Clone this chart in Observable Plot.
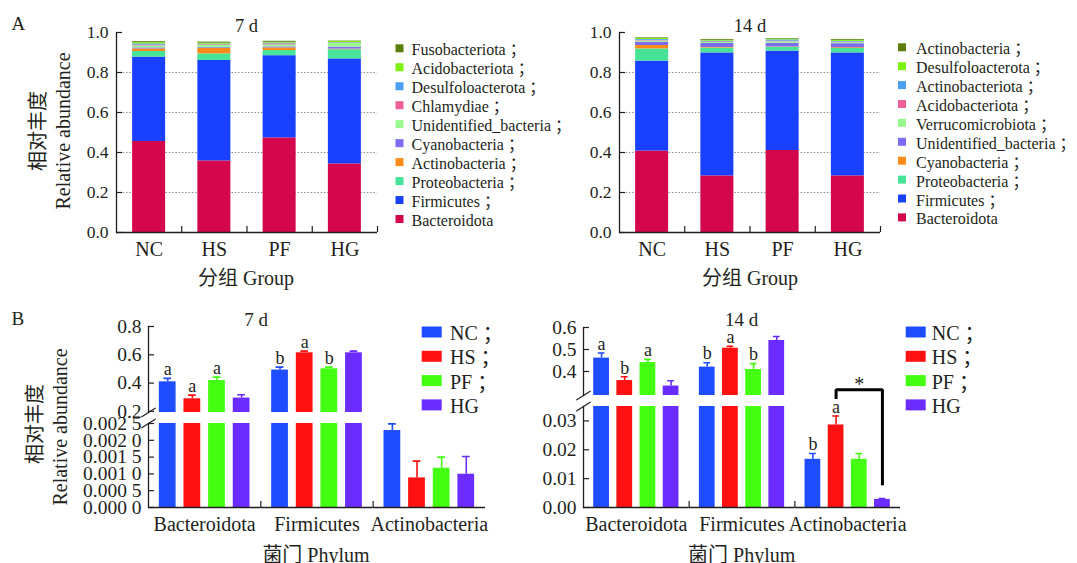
<!DOCTYPE html>
<html>
<head>
<meta charset="utf-8">
<script src="https://cdn.jsdelivr.net/npm/d3@7"></script>
<script src="https://cdn.jsdelivr.net/npm/@observablehq/plot@0.6"></script>
<style>
  html, body { margin: 0; padding: 0; background: #fff; }
  #root { position: relative; width: 1077px; height: 563px; overflow: hidden; background: #fff;
          font-family: "Liberation Serif", "Noto Sans CJK SC", serif; }
  #root > svg { position: absolute; left: 0; }
</style>
</head>
<body>
<div id="root"></div>
<script>
// ---------------- data ----------------
const groups = ["NC", "HS", "PF", "HG"];

// Panel A, 7 d (stack order bottom -> top)
const phyla7 = ["Bacteroidota", "Firmicutes", "Proteobacteria", "Actinobacteria", "Cyanobacteria",
  "Unidentified_bacteria", "Chlamydiae", "Desulfoloacterota", "Acidobacteriota", "Fusobacteriota"];
const abund7NC = [0.455, 0.422, 0.028, 0.013, 0.005, 0.010, 0.004, 0.006, 0.006, 0.005];
const abund7HS = [0.358, 0.502, 0.033, 0.027, 0.004, 0.012, 0.003, 0.003, 0.005, 0.005];
const abund7PF = [0.473, 0.411, 0.026, 0.013, 0.005, 0.010, 0.005, 0.004, 0.004, 0.005];
const abund7HG = [0.343, 0.525, 0.046, 0.003, 0.010, 0.018, 0.002, 0.002, 0.006, 0.002];

// Panel A, 14 d (stack order bottom -> top)
const phyla14 = ["Bacteroidota", "Firmicutes", "Proteobacteria", "Cyanobacteria", "Unidentified_bacteria",
  "Verrucomicrobiota", "Acidobacteriota", "Actinobacteriota", "Desulfoloacterota", "Actinobacteria"];
const abund14NC = [0.407, 0.450, 0.061, 0.017, 0.017, 0.006, 0.003, 0.004, 0.005, 0.003];
const abund14HS = [0.283, 0.615, 0.024, 0.003, 0.020, 0.005, 0.003, 0.004, 0.004, 0.004];
const abund14PF = [0.410, 0.497, 0.019, 0.002, 0.018, 0.008, 0.003, 0.006, 0.004, 0.003];
const abund14HG = [0.283, 0.615, 0.022, 0.004, 0.020, 0.005, 0.003, 0.004, 0.005, 0.004];

const stackColors = ["#d4074c", "#1a40ff", "#47e397", "#ff8a1c", "#7c6cf2",
  "#98f78e", "#ef5f98", "#4aa0f5", "#7df20e", "#5b7d0c"];
const yTicksA = [0, 0.2, 0.4, 0.6, 0.8, 1.0];
const gridA = [0.2, 0.4, 0.6, 0.8];

// Panel B
const phylaB = ["Bacteroidota", "Firmicutes", "Actinobacteria"];
const groupColors = ["#1e4dff", "#ff1111", "#45ff12", "#6b2dff"];

const mean7NC = [0.409, 0.492, 0.00229], err7NC = [0.024, 0.021, 0.00020], sig7NC = ["a", "b", ""];
const mean7HS = [0.289, 0.614, 0.00088], err7HS = [0.026, 0.012, 0.00050], sig7HS = ["a", "a", ""];
const mean7PF = [0.418, 0.501, 0.00117], err7PF = [0.024, 0.012, 0.00033], sig7PF = ["a", "b", ""];
const mean7HG = [0.294, 0.614, 0.00099], err7HG = [0.023, 0.012, 0.00053], sig7HG = ["", "", ""];

const mean14NC = [0.461, 0.420, 0.0167], err14NC = [0.023, 0.020, 0.0020], sig14NC = ["a", "b", "b"];
const mean14HS = [0.359, 0.506, 0.0286], err14HS = [0.017, 0.009, 0.0031], sig14HS = ["b", "a", "a"];
const mean14PF = [0.441, 0.409, 0.0167], err14PF = [0.014, 0.027, 0.0020], sig14PF = ["a", "b", ""];
const mean14HG = [0.334, 0.541, 0.0028], err14HG = [0.024, 0.018, 0.0003], sig14HG = ["", "", ""];

const yTicks7Upper = [0.2, 0.4, 0.6, 0.8];
const yTicks7Lower = [0, 0.0005, 0.001, 0.0015, 0.002, 0.0025];
const yTicks14Upper = [0.4, 0.5, 0.6];
const yTicks14Lower = [0, 0.01, 0.02, 0.03];

// significance bracket (14 d, Actinobacteria HS vs HG)
const bracketGroups = ["HS", "HS", "HG", "HG"];
const bracketValues = [0.0376, 0.0408, 0.0408, 0.0077];
const starGroup = "PF", starValue = 0.0425;

// ---------------- helpers ----------------
const FONT = '"Liberation Serif", "Noto Sans CJK SC", serif';
const PUNCT_FONT = '"Noto Sans CJK TC", "Noto Sans CJK SC", sans-serif';
const INK = "#231f20";
const root = document.getElementById("root");
function place(node, top) { node.style.position = "absolute"; node.style.left = "0px"; node.style.top = top + "px"; root.appendChild(node); }

function stackRows(phyla, tables) {
  return groups.flatMap((g, gi) => phyla.map((p, i) => ({group: g, phylum: p, value: tables[gi][i]})));
}
function barRows(means, errs, sigs) {
  return groups.flatMap((g, gi) => phylaB.map((p, i) => ({
    group: g, phylum: p, mean: means[gi][i], err: errs[gi][i], top: means[gi][i] + errs[gi][i], letter: sigs[gi][i]
  })));
}

const rowsA7 = stackRows(phyla7, [abund7NC, abund7HS, abund7PF, abund7HG]);
const rowsA14 = stackRows(phyla14, [abund14NC, abund14HS, abund14PF, abund14HG]);
const rowsB7 = barRows([mean7NC, mean7HS, mean7PF, mean7HG], [err7NC, err7HS, err7PF, err7HG], [sig7NC, sig7HS, sig7PF, sig7HG]);
const rowsB14 = barRows([mean14NC, mean14HS, mean14PF, mean14HG], [err14NC, err14HS, err14PF, err14HG], [sig14NC, sig14HS, sig14PF, sig14HG]);

// ---------------- panel A ----------------
const A_W = 261;
function stackPanel(phyla, rows, left) {
  const stepA = A_W / 4;
  return Plot.plot({
    width: 1077, height: 300,
    marginLeft: left, marginRight: 1077 - left - A_W, marginTop: 32, marginBottom: 68,
    style: {fontFamily: FONT, fontSize: "17.5px", color: INK, background: "transparent", overflow: "visible"},
    x: {domain: groups, paddingInner: 0.494, paddingOuter: 0.247, round: false, axis: null},
    y: {domain: [0, 1], axis: null},
    color: {domain: phyla, range: stackColors},
    marks: [
      Plot.gridY(gridA, {stroke: "#808080", strokeOpacity: 1, strokeWidth: 0.9, strokeDasharray: "1.5,1.8"}),
      Plot.barY(rows, {x: "group", y: "value", fill: "phylum", order: phyla}),
      Plot.frame({anchor: "left", stroke: INK, strokeWidth: 1.3}),
      Plot.ruleY([0], {stroke: INK, strokeWidth: 1.3}),
      Plot.ruleX(groups, {x: d => d, dx: stepA / 2, insetTop: 194, stroke: INK, strokeWidth: 1.2}),
      Plot.axisY({ticks: yTicksA, tickFormat: d => d.toFixed(1), tickSize: -6, tickPadding: 14, stroke: INK, strokeWidth: 1.2, label: null}),
      Plot.axisX({tickSize: 0, tickPadding: 9, fontSize: 20, label: null})
    ]
  });
}
place(stackPanel(phyla7, rowsA7, 116), 0);
place(stackPanel(phyla14, rowsA14, 619), 0);

// ---------------- panel B ----------------
const PI_B = 0.32, PO_B = 0.44;
const slashShape = {draw(context, l) { context.moveTo(0, 0); context.lineTo(0, -l); }};

function barPanel({rows, top, height, mt, mb, left, right, domain, ticks, fmt, part, extra = []}) {
  const W = 1077 - left - right;
  const facetW = W / 3;
  const stepB = facetW / (4 - PI_B + 2 * PO_B);
  const edgeDx = (PO_B + (1 - PI_B) / 2) * stepB;
  const frameH = height - mt - mb;
  const isUpper = part === "upper";
  const labelled = rows.filter(d => d.letter && (isUpper ? d.phylum !== "Actinobacteria" : d.phylum === "Actinobacteria"));
  const marks = [
    Plot.barY(rows, {fx: "phylum", x: "group", y: "mean", fill: "group", clip: true}),
    Plot.ruleX(rows, {fx: "phylum", x: "group", y1: "mean", y2: "top", stroke: "group", strokeWidth: 1.6, clip: true}),
    Plot.tickY(rows, {fx: "phylum", x: "group", y: "top", stroke: "group", strokeWidth: 1.6, insetLeft: 4.5, insetRight: 4.5, clip: true}),
    Plot.text(labelled, {fx: "phylum", x: "group", y: "top", text: "letter", dy: -9, fontSize: 18}),
    Plot.frame({anchor: "left", facetAnchor: "left", stroke: INK, strokeWidth: 1.3}),
    Plot.axisY({ticks, tickFormat: fmt, tickSize: -6, tickPadding: 13, fontSize: 19.5, stroke: INK, strokeWidth: 1.2, label: null}),
    Plot.vector([{p: phylaB[0]}], {fx: "p", frameAnchor: isUpper ? "bottom-left" : "top-left", length: 16, rotate: 57,
      anchor: "middle", shape: slashShape, stroke: INK, strokeWidth: 1.2})
  ];
  if (!isUpper) {
    marks.push(Plot.ruleY([0], {stroke: INK, strokeWidth: 1.3}));
    marks.push(Plot.ruleX(phylaB.slice(0, 2).map(p => ({p, g: "HG"})), {fx: "p", x: "g", dx: edgeDx, insetTop: frameH - 6, stroke: INK, strokeWidth: 1.2}));
    marks.push(Plot.axisFx({anchor: "bottom", tickSize: 0, tickPadding: 9, fontSize: 20, label: null}));
  }
  marks.push(...extra);
  const svg = Plot.plot({
    width: 1077, height,
    marginLeft: left, marginRight: right, marginTop: mt, marginBottom: mb,
    style: {fontFamily: FONT, fontSize: "19.5px", color: INK, background: "transparent", overflow: "visible"},
    fx: {domain: phylaB, padding: 0, round: false, label: null, axis: null},
    x: {domain: groups, paddingInner: PI_B, paddingOuter: PO_B, round: false, axis: null},
    y: {domain, axis: null},
    color: {domain: groups, range: groupColors},
    marks
  });
  place(svg, top);
}

const fmt1 = d => d.toFixed(1);
const fmt2 = d => d.toFixed(2);
const fmt4 = d => { const s = d.toFixed(4); return s.slice(0, 5) + " " + s.slice(5); };

// 7 d
barPanel({rows: rowsB7, top: 300, height: 112, mt: 26, mb: 0, left: 148, right: 1077 - 485,
  domain: [0.192, 0.8], ticks: yTicks7Upper, fmt: fmt1, part: "upper"});
barPanel({rows: rowsB7, top: 396, height: 167, mt: 27, mb: 56, left: 148, right: 1077 - 485,
  domain: [0, 0.0025], ticks: yTicks7Lower, fmt: fmt4, part: "lower"});

// 14 d
barPanel({rows: rowsB14, top: 300, height: 95, mt: 27, mb: 0, left: 583, right: 1077 - 900,
  domain: [0.291, 0.6], ticks: yTicks14Upper, fmt: fmt1, part: "upper"});
const bracketRows = bracketGroups.map((g, i) => ({p: "Actinobacteria", g, v: bracketValues[i]}));
barPanel({rows: rowsB14, top: 360, height: 203, mt: 46, mb: 56, left: 583, right: 1077 - 900,
  domain: [0, 0.035], ticks: yTicks14Lower, fmt: fmt2, part: "lower",
  extra: [
    Plot.line(bracketRows, {fx: "p", x: "g", y: "v", stroke: "#000", strokeWidth: 3, strokeLinejoin: "miter", strokeLinecap: "butt"}),
    Plot.text([{p: "Actinobacteria", g: starGroup, v: starValue}], {fx: "p", x: "g", y: "v", text: () => "*", fontSize: 20})
  ]});

// ---------------- titles, axis titles, legends ----------------
const ov = d3.create("svg").attr("width", 1077).attr("height", 563)
  .style("position", "absolute").style("left", "0px").style("top", "0px")
  .attr("font-family", FONT).attr("fill", INK);

function txt(s, x, y, {size = 20, anchor = "middle", rotate = 0, central = false, punct = false} = {}) {
  const t = ov.append("text").attr("x", x).attr("y", y).attr("font-size", size)
    .attr("font-family", FONT).attr("text-anchor", anchor);
  t.append("tspan").text(s);
  if (punct) t.append("tspan").attr("font-family", PUNCT_FONT).text("；");
  if (central) t.attr("dominant-baseline", "central");
  if (rotate) t.attr("transform", `rotate(${rotate},${x},${y})`);
  return t;
}

// panel letters
txt("A", 11.5, 30, {size: 19, anchor: "start"});
txt("B", 11.5, 325, {size: 19, anchor: "start"});

// titles
txt("7 d", 246.5, 31.5, {size: 18.5});
txt("14 d", 750, 31.5, {size: 18.5});
txt("7 d", 256, 326, {size: 19});
txt("14 d", 741.7, 326, {size: 19});

// axis titles
txt("分组 Group", 246, 285, {size: 20});
txt("分组 Group", 750, 285, {size: 20});
txt("菌门 Phylum", 316, 562, {size: 20});
txt("菌门 Phylum", 741.7, 562, {size: 20});
txt("相对丰度", 38, 131, {size: 20, rotate: -90, central: true});
txt("Relative abundance", 63, 131, {size: 20, rotate: -90, central: true});
txt("相对丰度", 35, 424, {size: 20, rotate: -90, central: true});
txt("Relative abundance", 60, 427, {size: 20, rotate: -90, central: true});

// stacked legends (top of the legend = top of the stack)
function stackLegend(phyla, sqX, textX, y0, dy) {
  const items = phyla.map((p, i) => ({p, c: stackColors[i]})).reverse();
  items.forEach((d, i) => {
    const y = y0 + i * dy;
    ov.append("rect").attr("x", sqX).attr("y", y - 4).attr("width", 8).attr("height", 8).attr("fill", d.c);
    txt(d.p, textX, y + 1, {size: 16, anchor: "start", central: true, punct: i < items.length - 1});
  });
}
stackLegend(phyla7, 395.5, 411.5, 48.3, 18.97);
stackLegend(phyla14, 898, 916, 47.3, 18.9);

// group legends
function groupLegend(rectX, textX) {
  groups.forEach((g, i) => {
    const y = 332 + i * 24.3;
    ov.append("rect").attr("x", rectX).attr("y", y - 5.5).attr("width", 20).attr("height", 11).attr("fill", groupColors[i]);
    txt(g, textX, y + 1, {size: 20, anchor: "start", central: true, punct: i < groups.length - 1});
  });
}
groupLegend(421.7, 450);
groupLegend(905.7, 931.7);

root.appendChild(ov.node());
</script>
</body>
</html>
